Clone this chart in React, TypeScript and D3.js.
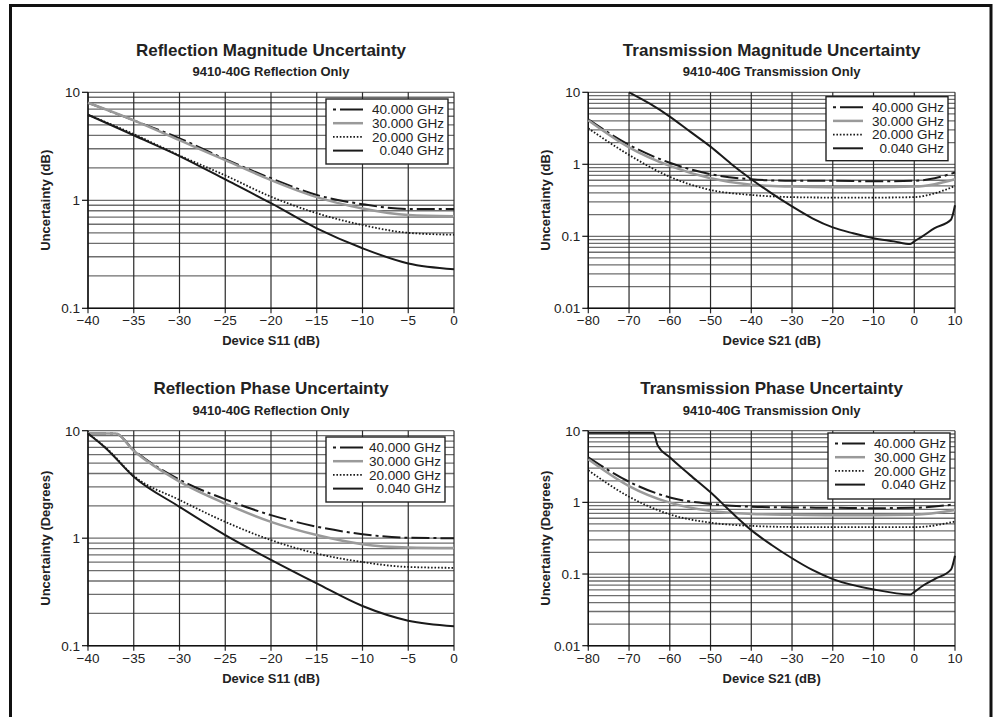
import React from "react";
import * as d3 from "d3";

// ---------- data ----------
const seriesNames = ["40.000 GHz", "30.000 GHz", "20.000 GHz", "0.040 GHz"];

const reflTicks = [-40, -35, -30, -25, -20, -15, -10, -5, 0];
const txTicks = [-80, -70, -60, -50, -40, -30, -20, -10, 0, 10];

// Reflection magnitude (dB)
const rmX = [-40, -35, -30, -25, -20, -15, -10, -5, 0];
const rm40 = [8.0, 5.5, 3.75, 2.4, 1.6, 1.12, 0.92, 0.83, 0.83];
const rm30 = [8.0, 5.5, 3.6, 2.35, 1.54, 1.07, 0.84, 0.73, 0.71];
const rm20 = [6.2, 4.1, 2.6, 1.7, 1.08, 0.76, 0.59, 0.5, 0.48];
const rm004 = [6.2, 4.0, 2.57, 1.56, 0.94, 0.55, 0.36, 0.26, 0.23];

// Transmission magnitude (dB)
const tmX = [-80, -70, -60, -50, -40, -30, -20, -10, 0, 5, 10];
const tm40 = [4.2, 1.86, 1.05, 0.73, 0.62, 0.59, 0.59, 0.58, 0.59, 0.64, 0.77];
const tm30 = [4.1, 1.72, 0.95, 0.64, 0.52, 0.49, 0.48, 0.48, 0.49, 0.53, 0.62];
const tm20 = [3.16, 1.35, 0.67, 0.44, 0.375, 0.35, 0.345, 0.345, 0.35, 0.395, 0.5];
const tm004X = [-70, -65, -60, -55, -50, -45, -40, -35, -30, -25, -20, -15, -10, -5, -1, 0, 2, 5, 9, 10];
const tm004 = [10, 7.0, 4.6, 2.84, 1.76, 1.02, 0.62, 0.395, 0.26, 0.178, 0.133, 0.11, 0.094, 0.085, 0.078, 0.085, 0.1, 0.13, 0.17, 0.27];

// Reflection phase (degrees)
const rpX = [-40, -37, -35, -30, -25, -20, -15, -10, -5, 0];
const rp40 = [9.4, 9.4, 6.6, 3.5, 2.3, 1.64, 1.28, 1.09, 1.01, 1.0];
const rp30 = [9.4, 9.4, 6.5, 3.36, 2.1, 1.42, 1.07, 0.88, 0.82, 0.81];
const rpLowX = [-40, -38, -35, -30, -25, -20, -15, -10, -5, 0];
const rp20 = [9.4, 6.9, 3.8, 2.27, 1.42, 0.96, 0.72, 0.6, 0.54, 0.53];
const rp004 = [9.4, 6.8, 3.73, 1.96, 1.07, 0.63, 0.38, 0.234, 0.171, 0.152];

// Transmission phase (degrees)
const tpX = [-80, -70, -60, -50, -40, -30, -20, -10, 0, 10];
const tp40 = [4.25, 1.94, 1.17, 0.95, 0.87, 0.85, 0.84, 0.83, 0.84, 0.94];
const tp30 = [4.0, 1.69, 0.99, 0.76, 0.69, 0.67, 0.66, 0.66, 0.67, 0.78];
const tp20 = [2.8, 1.2, 0.68, 0.52, 0.47, 0.453, 0.45, 0.45, 0.45, 0.54];
const tp004X = [-80, -64, -63, -60, -55, -50, -45, -40, -35, -30, -25, -20, -10, -1, 0, 2, 5, 9, 10];
const tp004 = [9.4, 9.4, 6.3, 4.25, 2.4, 1.38, 0.74, 0.41, 0.254, 0.166, 0.114, 0.085, 0.061, 0.052, 0.056, 0.068, 0.085, 0.115, 0.18];

// ---------- styles ----------
const FONT = "'Liberation Sans', Arial, Helvetica, sans-serif";
const styles = [
  { stroke: "#1a1a1a", width: 2, dash: "18,4,3,4", legendDash: "3,4,23" },
  { stroke: "#9a9a9a", width: 2.5, dash: "", legendDash: "" },
  { stroke: "#1a1a1a", width: 1.8, dash: "1.6,1.8", legendDash: "1.6,1.8" },
  { stroke: "#1a1a1a", width: 2, dash: "", legendDash: "" },
];

type Series = { x: number[]; y: number[] };

type PanelProps = {
  title: string;
  subtitle: string;
  xLabel: string;
  yLabel: string;
  x0: number;
  x1: number;
  yTop: number;
  yBot: number;
  xDomain: [number, number];
  yDomain: [number, number];
  xTicks: number[];
  series: Series[];
  legend: { left: number; top: number; w: number; h: number };
};

const fmtX = (v: number) => (v < 0 ? "\u2212" + Math.abs(v) : String(v));

function Panel(p: PanelProps) {
  const xs = d3.scaleLinear().domain(p.xDomain).range([p.x0, p.x1]);
  const ys = d3.scaleLog().domain(p.yDomain).range([p.yBot, p.yTop]);
  const lo = Math.round(Math.log10(p.yDomain[0]));
  const hi = Math.round(Math.log10(p.yDomain[1]));
  const hLines: number[] = [];
  for (let d = lo; d < hi; d++) {
    for (let k = 1; k <= 9; k++) hLines.push(k * Math.pow(10, d));
  }
  hLines.push(Math.pow(10, hi));
  const majors: number[] = [];
  for (let d = lo; d <= hi; d++) majors.push(Math.pow(10, d));
  const fmtY = (v: number) => (v >= 1 ? String(Math.round(v)) : String(+v.toPrecision(1)));
  const line = d3
    .line<[number, number]>()
    .x((d) => xs(d[0]))
    .y((d) => ys(d[1]))
    .curve(d3.curveMonotoneX);
  const cx = (p.x0 + p.x1) / 2;
  const cy = (p.yTop + p.yBot) / 2;
  const L = p.legend;
  return (
    <g>
      <text x={cx} y={p.yTop - 36.5} textAnchor="middle" fontSize={17} fontWeight="bold" fill="#222">
        {p.title}
      </text>
      <text x={cx} y={p.yTop - 16} textAnchor="middle" fontSize={13} fontWeight="bold" fill="#222">
        {p.subtitle}
      </text>
      {hLines.map((v, i) => (
        <line key={"h" + i} x1={p.x0} x2={p.x1} y1={ys(v)} y2={ys(v)} stroke="#6e6e6e" strokeWidth={1.3} />
      ))}
      {p.xTicks.map((v, i) => (
        <line key={"v" + i} x1={xs(v)} x2={xs(v)} y1={p.yTop} y2={p.yBot + 5} stroke="#2a2a2a" strokeWidth={1.2} />
      ))}
      <line x1={p.x0} x2={p.x0} y1={p.yTop} y2={p.yBot} stroke="#111" strokeWidth={1.4} />
      <line x1={p.x0 - 1} x2={p.x1} y1={p.yBot} y2={p.yBot} stroke="#111" strokeWidth={1.4} />
      {majors.map((v, i) => (
        <g key={"m" + i}>
          <line x1={p.x0 - 6} x2={p.x0} y1={ys(v)} y2={ys(v)} stroke="#111" strokeWidth={1.2} />
          <text x={p.x0 - 8} y={ys(v)} dy="0.36em" textAnchor="end" fontSize={13.5} fill="#222">
            {fmtY(v)}
          </text>
        </g>
      ))}
      {p.xTicks.map((v, i) => (
        <text key={"xt" + i} x={xs(v)} y={p.yBot + 17} textAnchor="middle" fontSize={13.5} fill="#222">
          {fmtX(v)}
        </text>
      ))}
      <text x={cx} y={p.yBot + 37} textAnchor="middle" fontSize={13} fontWeight="bold" fill="#222">
        {p.xLabel}
      </text>
      <text
        transform={`translate(${p.x0 - 43},${cy}) rotate(-90)`}
        textAnchor="middle"
        dy="0.35em"
        fontSize={13}
        fontWeight="bold"
        fill="#222"
      >
        {p.yLabel}
      </text>
      {p.series.map((s, i) => (
        <path
          key={"s" + i}
          d={line(s.x.map((x, j) => [x, s.y[j]] as [number, number])) || ""}
          fill="none"
          stroke={styles[i].stroke}
          strokeWidth={styles[i].width}
          strokeDasharray={styles[i].dash || undefined}
          strokeLinejoin="round"
        />
      ))}
      <rect x={L.left} y={L.top} width={L.w} height={L.h} fill="#fff" stroke="#222" strokeWidth={1.4} />
      {seriesNames.map((n, i) => {
        const ry = L.top + 10.5 + i * 13.7;
        return (
          <g key={"l" + i}>
            <line
              x1={L.left + 7}
              x2={L.left + 37}
              y1={ry}
              y2={ry}
              stroke={styles[i].stroke}
              strokeWidth={styles[i].width}
              strokeDasharray={styles[i].legendDash || undefined}
            />
            <text x={L.left + L.w - 4} y={ry} dy="0.36em" textAnchor="end" fontSize={13.5} fill="#222">
              {n}
            </text>
          </g>
        );
      })}
    </g>
  );
}

export default function App() {
  const TOP1 = 92.3, BOT1 = 308.3, TOP2 = 430.7, BOT2 = 645.7;
  const LX0 = 88, LX1 = 454, RX0 = 588.3, RX1 = 955;
  return (
    <svg
      width={997}
      height={717}
      style={{ position: "absolute", left: 0, top: 0, background: "#fff" }}
      fontFamily={FONT}
    >
      <rect x={0} y={0} width={997} height={717} fill="#fff" />
      <path d="M10.5,730 L10.5,5.5 L991,5.5 L991,730" fill="none" stroke="#111" strokeWidth={3} />
      <Panel
        title="Reflection Magnitude Uncertainty"
        subtitle="9410-40G Reflection Only"
        xLabel="Device S11 (dB)"
        yLabel="Uncertainty (dB)"
        x0={LX0}
        x1={LX1}
        yTop={TOP1}
        yBot={BOT1}
        xDomain={[-40, 0]}
        yDomain={[0.1, 10]}
        xTicks={reflTicks}
        series={[
          { x: rmX, y: rm40 },
          { x: rmX, y: rm30 },
          { x: rmX, y: rm20 },
          { x: rmX, y: rm004 },
        ]}
        legend={{ left: 326, top: 99, w: 122, h: 65 }}
      />
      <Panel
        title="Transmission Magnitude Uncertainty"
        subtitle="9410-40G Transmission Only"
        xLabel="Device S21 (dB)"
        yLabel="Uncertainty (dB)"
        x0={RX0}
        x1={RX1}
        yTop={TOP1}
        yBot={BOT1}
        xDomain={[-80, 10]}
        yDomain={[0.01, 10]}
        xTicks={txTicks}
        series={[
          { x: tmX, y: tm40 },
          { x: tmX, y: tm30 },
          { x: tmX, y: tm20 },
          { x: tm004X, y: tm004 },
        ]}
        legend={{ left: 826, top: 96.7, w: 122, h: 64 }}
      />
      <Panel
        title="Reflection Phase Uncertainty"
        subtitle="9410-40G  Reflection Only"
        xLabel="Device S11 (dB)"
        yLabel="Uncertainty (Degrees)"
        x0={LX0}
        x1={LX1}
        yTop={TOP2}
        yBot={BOT2}
        xDomain={[-40, 0]}
        yDomain={[0.1, 10]}
        xTicks={reflTicks}
        series={[
          { x: rpX, y: rp40 },
          { x: rpX, y: rp30 },
          { x: rpLowX, y: rp20 },
          { x: rpLowX, y: rp004 },
        ]}
        legend={{ left: 326, top: 437, w: 119, h: 65 }}
      />
      <Panel
        title="Transmission Phase Uncertainty"
        subtitle="9410-40G Transmission Only"
        xLabel="Device S21 (dB)"
        yLabel="Uncertainty (Degrees)"
        x0={RX0}
        x1={RX1}
        yTop={TOP2}
        yBot={BOT2}
        xDomain={[-80, 10]}
        yDomain={[0.01, 10]}
        xTicks={txTicks}
        series={[
          { x: tpX, y: tp40 },
          { x: tpX, y: tp30 },
          { x: tpX, y: tp20 },
          { x: tp004X, y: tp004 },
        ]}
        legend={{ left: 828, top: 433, w: 122, h: 66 }}
      />
    </svg>
  );
}
